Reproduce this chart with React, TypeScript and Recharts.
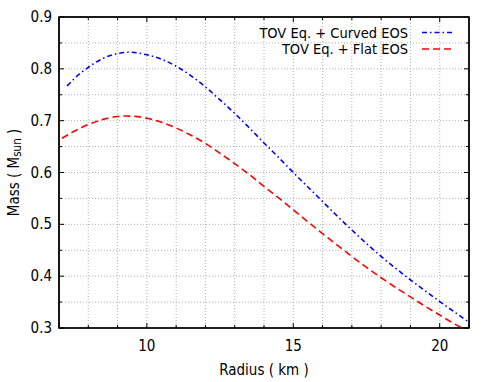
import React from 'react';
import { LineChart, Line, XAxis, YAxis, CartesianGrid, Legend, Label, ReferenceArea, ReferenceLine } from 'recharts';

const curvedRadius = [7.28, 7.5, 8, 8.5, 9, 9.4, 10, 10.5, 11, 11.5, 12, 12.5, 13, 13.5, 14, 14.5, 15, 15.5, 16, 16.5, 17, 17.5, 18, 18.5, 19, 19.5, 20, 20.5, 21];
const curvedMass = [0.767, 0.780, 0.803, 0.820, 0.8296, 0.832, 0.827, 0.8185, 0.805, 0.787, 0.765, 0.740, 0.714, 0.686, 0.657, 0.629, 0.600, 0.572, 0.544, 0.516, 0.489, 0.463, 0.438, 0.415, 0.393, 0.372, 0.351, 0.331, 0.311];

const flatRadius = [7.1, 7.5, 8, 8.5, 9, 9.3, 10, 10.5, 11, 11.5, 12, 12.5, 13, 13.5, 14, 14.5, 15, 15.5, 16, 16.5, 17, 17.5, 18, 18.5, 19, 19.5, 20, 20.5, 20.76];
const flatMass = [0.666, 0.679, 0.6925, 0.7025, 0.708, 0.709, 0.7048, 0.697, 0.686, 0.672, 0.656, 0.637, 0.617, 0.596, 0.573, 0.551, 0.528, 0.505, 0.482, 0.460, 0.438, 0.417, 0.397, 0.378, 0.360, 0.342, 0.325, 0.308, 0.3];

const xDomain = [7, 21];
const yDomain = [0.3, 0.9];
const xTicks = [7, 8, 9, 10, 11, 12, 13, 14, 15, 16, 17, 18, 19, 20, 21];
const xLabeled = [10, 15, 20];
const yTicks = [0.3, 0.35, 0.4, 0.45, 0.5, 0.55, 0.6, 0.65, 0.7, 0.75, 0.8, 0.85, 0.9];
const yLabeled = [0.3, 0.4, 0.5, 0.6, 0.7, 0.8, 0.9];
const seriesNames = ['TOV Eq. + Curved EOS', 'TOV Eq. + Flat EOS'];
const seriesColors = ['#0000ff', '#ff0000'];
const seriesDash = ['5 3 1.5 3', '7 4'];

const curvedData = curvedRadius.map((r, i) => ({ r, m: curvedMass[i] }));
const flatData = flatRadius.map((r, i) => ({ r, m: flatMass[i] }));

const FONT = "'Liberation Sans Narrow', 'DejaVu Sans Condensed', 'Liberation Sans', Arial, sans-serif";

const isLabeled = (arr: number[], v: number) => arr.some((a) => Math.abs(a - v) < 1e-6);

const BottomTick = (props: any) => {
  const { x, y, payload } = props;
  const v = payload.value;
  const major = isLabeled(xLabeled, v);
  return (
    <g>
      <line x1={x} x2={x} y1={y} y2={y - (major ? 5 : 3)} stroke="#000" strokeWidth={1} />
      {major && (
        <text x={x} y={y + 23} textAnchor="middle" fontSize={15} fontFamily={FONT} fill="#000">
          {v}
        </text>
      )}
    </g>
  );
};

const LeftTick = (props: any) => {
  const { x, y, payload } = props;
  const v = payload.value;
  const major = isLabeled(yLabeled, v);
  return (
    <g>
      <line x1={x} x2={x + (major ? 5 : 3)} y1={y} y2={y} stroke="#000" strokeWidth={1} />
      {major && (
        <text x={x - 7} y={y + 5} textAnchor="end" fontSize={15} fontFamily={FONT} fill="#000">
          {v.toFixed(1)}
        </text>
      )}
    </g>
  );
};

// Plot frame with mirrored ticks on top and right edges
const FrameShape = (props: any) => {
  const { x, y, width, height } = props;
  const sx = (v: number) => x + ((v - xDomain[0]) / (xDomain[1] - xDomain[0])) * width;
  const sy = (v: number) => y + height - ((v - yDomain[0]) / (yDomain[1] - yDomain[0])) * height;
  return (
    <g>
      <rect x={x} y={y} width={width} height={height} fill="none" stroke="#000" strokeWidth={1.5} />
      {xTicks.map((t) => {
        const px = sx(t);
        const len = isLabeled(xLabeled, t) ? 5 : 3;
        return <line key={`tx${t}`} x1={px} x2={px} y1={y} y2={y + len} stroke="#000" strokeWidth={1} />;
      })}
      {yTicks.map((t) => {
        const py = sy(t);
        const len = isLabeled(yLabeled, t) ? 5 : 3;
        return <line key={`ty${t}`} x1={x + width} x2={x + width - len} y1={py} y2={py} stroke="#000" strokeWidth={1} />;
      })}
    </g>
  );
};

const YLabel = (props: any) => {
  const vb = props.viewBox || {};
  const cy = (vb.y ?? 17) + (vb.height ?? 311) / 2;
  const cx = 14;
  return (
    <text
      transform={`translate(${cx},${cy}) rotate(-90)`}
      textAnchor="middle"
      fontSize={15}
      fontFamily={FONT}
      fill="#000"
      dominantBaseline="central"
    >
      <tspan>Mass ( M</tspan>
      <tspan fontSize={11.5} dy={3}>sun</tspan>
      <tspan dy={-3}> )</tspan>
    </text>
  );
};

const LegendContent = () => (
  <svg width={491} height={60} style={{ display: 'block' }}>
    {seriesNames.map((name, i) => {
      const cy = 32.5 + i * 16.5;
      return (
        <g key={name}>
          <text x={408} y={cy + 5} textAnchor="end" fontSize={14.5} fontFamily={FONT} fill="#000">
            {name}
          </text>
          <line x1={422} x2={453} y1={cy} y2={cy} stroke={seriesColors[i]} strokeWidth={1.6} strokeDasharray={seriesDash[i]} />
        </g>
      );
    })}
  </svg>
);

export default function App() {
  return (
    <div style={{ position: 'absolute', left: 0, top: 0, width: 491, height: 382, background: '#fff' }}>
      <LineChart width={491} height={382} margin={{ top: 17, right: 22, bottom: 24, left: 0 }}>
        <CartesianGrid stroke="#b0b0b0" strokeDasharray="1 2" vertical horizontal />
        <XAxis
          dataKey="r"
          type="number"
          domain={xDomain}
          ticks={xTicks}
          interval={0}
          allowDataOverflow
          height={30}
          tickSize={0}
          tickMargin={0}
          tickLine={false}
          axisLine={{ stroke: '#000', strokeWidth: 1.2 }}
          tick={<BottomTick />}
        >
          <Label
            value="Radius ( km )"
            position="insideBottom"
            offset={0}
            content={(p: any) => {
              const vb = p.viewBox || {};
              return (
                <text x={(vb.x ?? 59) + (vb.width ?? 410) / 2} y={375} textAnchor="middle" fontSize={15} fontFamily={FONT} fill="#000">
                  Radius ( km )
                </text>
              );
            }}
          />
        </XAxis>
        <YAxis
          type="number"
          domain={yDomain}
          ticks={yTicks}
          interval={0}
          allowDataOverflow
          width={59}
          tickSize={0}
          tickMargin={0}
          tickLine={false}
          axisLine={{ stroke: '#000', strokeWidth: 1.2 }}
          tick={<LeftTick />}
        >
          <Label content={<YLabel />} />
        </YAxis>
        <Legend
          layout="horizontal"
          verticalAlign="middle"
          align="center"
          wrapperStyle={{ left: 0, top: 0, width: 491, height: 60 }}
          content={<LegendContent />}
        />
        <ReferenceLine y={yDomain[1]} stroke="#111111" strokeWidth={1.6} ifOverflow="visible" />
        <ReferenceLine x={xDomain[1]} stroke="#111111" strokeWidth={1.6} ifOverflow="visible" />
        <Line
          data={curvedData}
          dataKey="m"
          name={seriesNames[0]}
          type="monotone"
          stroke={seriesColors[0]}
          strokeWidth={1.6}
          strokeDasharray={seriesDash[0]}
          dot={false}
          activeDot={false}
          isAnimationActive={false}
        />
        <Line
          data={flatData}
          dataKey="m"
          name={seriesNames[1]}
          type="monotone"
          stroke={seriesColors[1]}
          strokeWidth={1.6}
          strokeDasharray={seriesDash[1]}
          dot={false}
          activeDot={false}
          isAnimationActive={false}
        />
        <ReferenceArea
          x1={xDomain[0]}
          x2={xDomain[1]}
          y1={yDomain[0]}
          y2={yDomain[1]}
          ifOverflow="visible"
          fill="none"
          shape={<FrameShape />}
        />
      </LineChart>
    </div>
  );
}
